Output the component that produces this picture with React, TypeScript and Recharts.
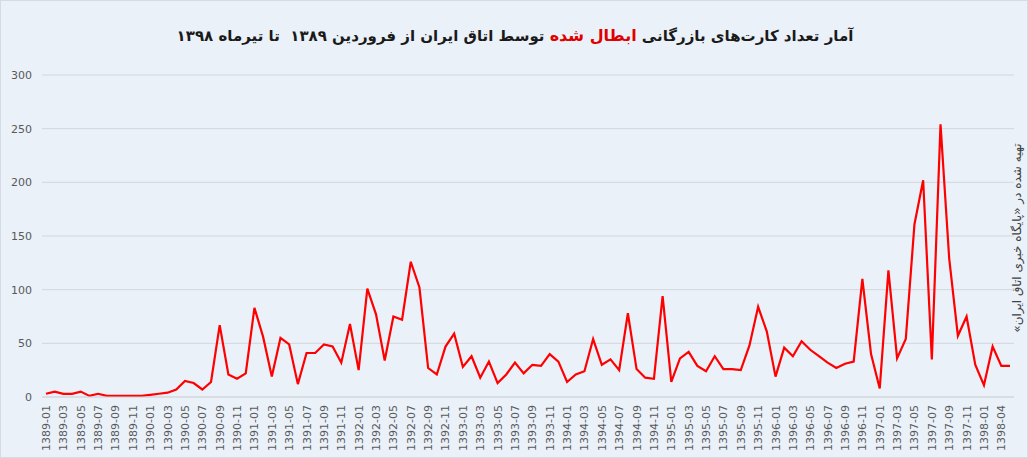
import { LineChart, Line, XAxis, YAxis, CartesianGrid } from "recharts";

// monthly counts
const years = ["1389", "1390", "1391", "1392", "1393", "1394", "1395", "1396", "1397", "1398"];
const months = ["01", "02", "03", "04", "05", "06", "07", "08", "09", "10", "11", "12"];
const months1398 = ["01", "02", "04", "05"];

const y1389 = [3, 5, 3, 3, 5, 1, 3, 1, 1, 1, 1, 1];
const y1390 = [2, 3, 4, 7, 15, 13, 7, 14, 67, 21, 17, 22];
const y1391 = [83, 56, 19, 55, 49, 12, 41, 41, 49, 47, 32, 68];
const y1392 = [25, 101, 77, 34, 75, 72, 126, 102, 27, 21, 47, 59];
const y1393 = [28, 38, 18, 33, 13, 21, 32, 22, 30, 29, 40, 33];
const y1394 = [14, 21, 24, 54, 30, 35, 25, 78, 26, 18, 17, 94];
const y1395 = [14, 36, 42, 29, 24, 38, 26, 26, 25, 48, 84, 61];
const y1396 = [19, 46, 38, 52, 44, 38, 32, 27, 31, 33, 110, 40];
const y1397 = [8, 118, 36, 54, 161, 202, 35, 254, 129, 57, 75, 30];
const y1398 = [11, 47, 29, 29];

const yTicks = [0, 50, 100, 150, 200, 250, 300];

const perYear = [y1389, y1390, y1391, y1392, y1393, y1394, y1395, y1396, y1397, y1398];

const data = perYear.flatMap((vals, i) => {
  const ms = years[i] === "1398" ? months1398 : months;
  return vals.map((v, j) => ({ month: `${years[i]}-${ms[j]}`, count: v }));
});

const axisText = { fontSize: 11, fill: "#595959", fontFamily: "DejaVu Sans" };

function MonthTick({ x, y, payload }: any) {
  return (
    <text
      x={x}
      y={y}
      transform={`rotate(-90, ${x}, ${y})`}
      dx={0}
      dy={4}
      textAnchor="end"
      {...axisText}
    >
      {payload.value}
    </text>
  );
}

export default function App() {
  return (
    <div
      style={{
        position: "absolute",
        left: 0,
        top: 0,
        width: 1028,
        height: 458,
        background: "#eaf1f9",
        boxSizing: "border-box",
        border: "1px solid #d5dbe2",
        overflow: "hidden",
      }}
    >
      <div
        dir="rtl"
        style={{
          position: "absolute",
          top: 25,
          left: 0,
          width: 1028,
          textAlign: "center",
          fontFamily: "DejaVu Sans",
          fontWeight: 700,
          fontSize: 15,
          color: "#1a1a1a",
        }}
      >
        آمار تعداد کارت‌های بازرگانی{" "}
        <span style={{ color: "#e00000", fontSize: 16 }}>ابطال شده</span> توسط اتاق ایران از
        فروردین ۱۳۸۹&nbsp; تا تیرماه ۱۳۹۸
      </div>
      <div
        dir="rtl"
        style={{
          position: "absolute",
          left: 1016,
          top: 237,
          transform: "translate(-50%, -50%) rotate(-90deg)",
          whiteSpace: "nowrap",
          fontFamily: "DejaVu Sans",
          fontSize: 12,
          color: "#404040",
        }}
      >
        تهیه شده در «پایگاه خبری اتاق ایران»
      </div>
      <LineChart
        width={1028}
        height={458}
        data={data}
        margin={{ top: 74, right: 15, bottom: 0, left: 0 }}
      >
        <CartesianGrid vertical={false} stroke="#d3d7dc" strokeWidth={1} />
        <XAxis
          dataKey="month"
          interval={1}
          tickLine={false}
          axisLine={{ stroke: "#d3d7dc" }}
          height={62}
          padding={{ left: 4, right: 4 }}
          tick={<MonthTick />}
        />
        <YAxis
          width={41}
          domain={[0, 300]}
          ticks={yTicks}
          axisLine={false}
          tickLine={false}
          tick={axisText}
          tickMargin={4}
        />
        <Line
          type="linear"
          dataKey="count"
          stroke="#ff0000"
          strokeWidth={2.2}
          dot={false}
          isAnimationActive={false}
        />
      </LineChart>
    </div>
  );
}
